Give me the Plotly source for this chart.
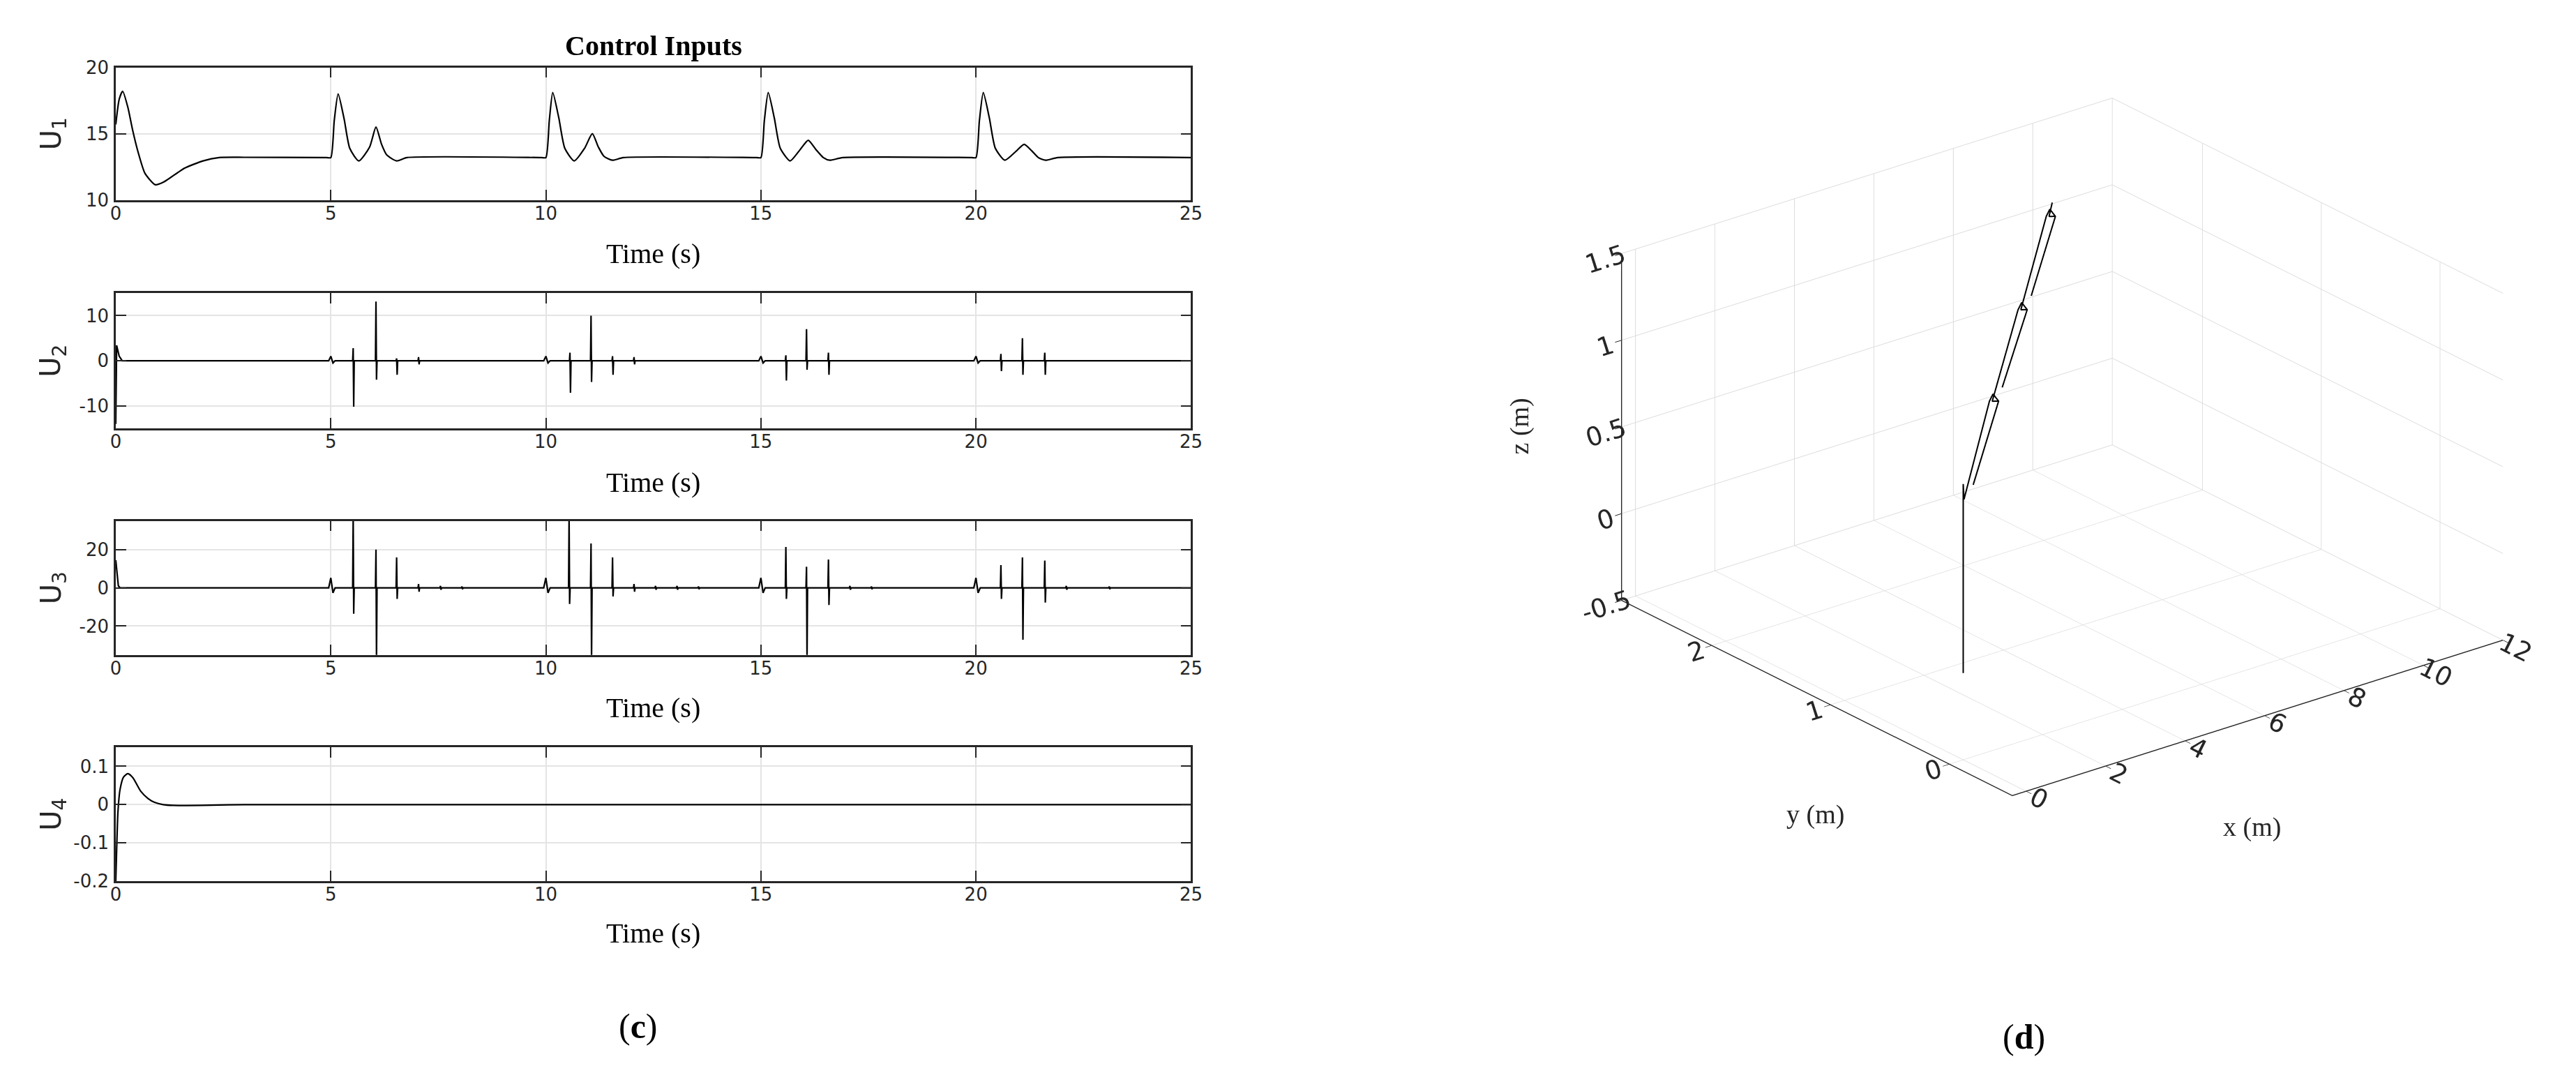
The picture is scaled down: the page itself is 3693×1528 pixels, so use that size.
import plotly.graph_objects as go

# ---- control inputs ----
# U1: thrust, smooth transients at takeoff and at every waypoint switch
u1_t = [0, 0.08, 0.16, 0.28, 0.39, 0.52, 0.68, 0.92, 1.11, 1.6, 2.03, 2.4, 3.0, 4.9,
        5.0, 5.08, 5.17, 5.31, 5.44, 5.65, 5.9, 6.05, 6.18, 6.3, 6.53, 6.77, 9.9,
        10.0, 10.08, 10.16, 10.3, 10.44, 10.66, 10.9, 11.08, 11.22, 11.35, 11.55, 11.8, 14.9,
        15.0, 15.08, 15.17, 15.31, 15.45, 15.68, 15.9, 16.1, 16.28, 16.45, 16.6, 16.9, 19.9,
        20.0, 20.08, 20.17, 20.31, 20.45, 20.67, 20.94, 21.12, 21.3, 21.45, 21.62, 21.9, 25.0]
u1_v = [15.7, 17.6, 18.2, 17.0, 15.3, 13.6, 12.0, 11.15, 11.35, 12.4, 12.95, 13.2, 13.22, 13.2,
        13.2, 16.0, 18.0, 16.1, 13.9, 12.95, 13.98, 15.5, 14.2, 13.4, 12.95, 13.2, 13.2,
        13.2, 16.0, 18.1, 16.2, 13.9, 12.95, 13.9, 15.0, 14.0, 13.3, 13.0, 13.2, 13.2,
        13.2, 16.0, 18.1, 16.2, 13.9, 12.95, 13.75, 14.5, 13.8, 13.2, 13.0, 13.2, 13.2,
        13.2, 16.0, 18.1, 16.2, 13.9, 13.0, 13.7, 14.2, 13.7, 13.2, 13.0, 13.2, 13.2]

# U2: roll input
u2_start_t = [0, 0.02, 0.08, 0.15]
u2_start_v = [-14, 3.4, 1.0, 0]
u2_wig_t = [5, 10, 15, 20]
u2_wig_hi = [1.0, 1.0, 1.0, 1.0]
u2_wig_lo = [-0.5, -0.5, -0.5, -0.5]
u2_spk_t = [5.52, 6.05, 6.53, 7.04, 10.56, 11.05, 11.55, 12.05, 15.58, 16.06, 16.57, 20.58, 21.08, 21.6]
u2_spk_hi = [2.8, 13.1, 0.5, 0.8, 1.8, 10.0, 1.0, 0.8, 1.2, 7.0, 1.8, 1.5, 5.0, 1.8]
u2_spk_lo = [-10.2, -4.2, -3.1, -0.8, -7.1, -4.7, -3.1, -0.8, -4.4, -2.0, -3.1, -2.3, -3.1, -3.1]

# U3: pitch input
u3_start_t = [0, 0.03, 0.06, 0.1]
u3_start_v = [14.5, 8.0, 1.0, 0]
u3_wig_t = [5, 10, 15, 20]
u3_wig_hi = [5.2, 5.2, 5.2, 5.2]
u3_wig_lo = [-2.6, -2.6, -2.6, -2.6]
u3_spk_t = [5.52, 6.05, 6.53, 7.04, 7.55, 8.05,
            10.54, 11.05, 11.55, 12.05, 12.55, 13.05, 13.55,
            15.58, 16.06, 16.57, 17.07, 17.57,
            20.58, 21.08, 21.6, 22.1, 23.1]
u3_spk_hi = [38, 20.0, 15.9, 2.0, 1.0, 0.7,
             38, 23.2, 15.9, 2.0, 1.0, 1.0, 0.7,
             21.3, 11.0, 14.8, 1.0, 0.7,
             11.9, 15.9, 14.2, 1.0, 0.7]
u3_spk_lo = [-13.5, -38, -5.8, -2.0, -1.0, -0.7,
             -8.4, -38, -4.5, -2.0, -1.0, -1.0, -0.7,
             -5.8, -38, -9.0, -1.0, -0.7,
             -5.8, -27.1, -7.7, -1.0, -0.7]

# U4: yaw input
u4_t = [0, 0.02, 0.05, 0.1, 0.18, 0.28, 0.4, 0.58, 0.75, 0.9, 1.1, 1.33, 2.0, 3.0, 25.0]
u4_v = [-0.2, -0.12, -0.02, 0.04, 0.072, 0.081, 0.07, 0.035, 0.016, 0.006, 0.0, -0.002, -0.002, 0.0, 0.0]

# ---- 3D trajectory (m) ----
traj_x = [0, 0, 0, 0.02, 3.44, 3.50, 3.58, 0.61, 3.58, 3.48,
          6.70, 6.76, 6.84, 4.06, 6.84, 6.74,
          10.01, 10.07, 10.15, 7.33, 10.15, 10.05, 10.10]
traj_y = [0, 0, 0, 0, 0.93, 0.92, 0.90, 0.12, 0.90, 0.92,
          1.78, 1.77, 1.75, 1.03, 1.75, 1.77,
          2.65, 2.64, 2.62, 1.88, 2.62, 2.64, 2.63]
traj_z = [0, 1.0, 1.09, 1.0, 1.0, 1.04, 1.0, 1.0, 1.0, 1.0,
          1.0, 1.04, 1.0, 1.0, 1.0, 1.0,
          1.0, 1.04, 1.0, 1.0, 1.0, 1.0, 1.08]

time_ticks = [0, 5, 10, 15, 20, 25]
y_ranges = [[10, 20], [-15, 15], [-35, 35], [-0.2, 0.15]]
y_ticks = [[10, 15, 20], [-10, 0, 10], [-20, 0, 20], [-0.2, -0.1, 0, 0.1]]
y_ticktext = [['10', '15', '20'], ['-10', '0', '10'], ['-20', '0', '20'], ['-0.2', '-0.1', '0', '0.1']]


def spiky(start_t, start_v, wig_t, wig_hi, wig_lo, spk_t, spk_hi, spk_lo, t_end=25.0):
    # turn the read-off events into a polyline around the zero baseline
    pts = list(zip(start_t, start_v))
    ev = [(t, h, l, 0.05) for t, h, l in zip(wig_t, wig_hi, wig_lo)]
    ev += [(t, h, l, 0.012) for t, h, l in zip(spk_t, spk_hi, spk_lo)]
    for t, h, l, w in sorted(ev):
        pts += [(t - w, 0), (t, h), (t + w, l), (t + 2 * w, 0)]
    pts.append((t_end, 0))
    return [p[0] for p in pts], [p[1] for p in pts]


u2_t, u2_v = spiky(u2_start_t, u2_start_v, u2_wig_t, u2_wig_hi, u2_wig_lo, u2_spk_t, u2_spk_hi, u2_spk_lo)
u3_t, u3_v = spiky(u3_start_t, u3_start_v, u3_wig_t, u3_wig_hi, u3_wig_lo, u3_spk_t, u3_spk_hi, u3_spk_lo)

W, H = 3693, 1528
AX = '#262626'
GRID = '#e4e4e4'
TICKFONT = dict(family='DejaVu Sans', size=26, color=AX)
SERIF = 'Liberation Serif'

# pixel boxes of the four panels (top, bottom)
boxes = [(75, 269), (405, 603), (738, 934), (1069, 1265)]
x_dom = [151 / W, 1703 / W]

fig = go.Figure()

series = [(u1_t, u1_v, 'spline'), (u2_t, u2_v, 'linear'), (u3_t, u3_v, 'linear'), (u4_t, u4_v, 'spline')]
for i, (t, v, shape) in enumerate(series):
    sfx = '' if i == 0 else str(i + 1)
    fig.add_trace(go.Scatter(x=t, y=v, mode='lines', xaxis='x' + sfx, yaxis='y' + sfx,
                             line=dict(color='black', width=2.2, shape=shape, smoothing=0.6),
                             showlegend=False, hoverinfo='skip'))

fig.add_trace(go.Scatter3d(x=traj_x, y=traj_y, z=traj_z, mode='lines',
                           line=dict(color='black', width=4), showlegend=False, scene='scene'))

layout = dict(width=W, height=H, paper_bgcolor='white', plot_bgcolor='white',
              margin=dict(l=0, r=0, t=0, b=0), showlegend=False)

for i, (top, bot) in enumerate(boxes):
    sfx = '' if i == 0 else str(i + 1)
    layout['xaxis' + sfx] = dict(domain=x_dom, anchor='y' + sfx, range=[0, 25], tickvals=time_ticks,
                                 showline=True, linecolor=AX, linewidth=2.5, mirror='ticks',
                                 ticks='inside', ticklen=15, tickwidth=2, tickcolor=AX,
                                 showgrid=True, gridcolor=GRID, gridwidth=1.5, zeroline=False,
                                 tickfont=TICKFONT, ticklabelstandoff=-6)
    layout['yaxis' + sfx] = dict(domain=[1 - bot / H, 1 - top / H], anchor='x' + sfx, range=y_ranges[i],
                                 tickvals=y_ticks[i], ticktext=y_ticktext[i],
                                 showline=True, linecolor=AX, linewidth=2.5, mirror='ticks',
                                 ticks='inside', ticklen=15, tickwidth=2, tickcolor=AX,
                                 showgrid=True, gridcolor=GRID, gridwidth=1.5, zeroline=False,
                                 tickfont=TICKFONT, ticklabelstandoff=2)

axis3d = dict(showbackground=False, gridcolor='#dcdcdc', gridwidth=2, zeroline=False,
              showline=True, linecolor=AX, linewidth=3, ticks='outside', ticklen=12, tickcolor=AX,
              tickwidth=2, tickfont=dict(family='DejaVu Sans', size=21, color=AX), showspikes=False,
              title=dict(text=''))
layout['scene'] = dict(
    domain=dict(x=[0.604, 0.9996], y=[0.19, 0.985]),
    xaxis=dict(axis3d, range=[-0.35, 12], tickvals=[0, 2, 4, 6, 8, 10, 12]),
    yaxis=dict(axis3d, range=[-0.53, 2.76], tickvals=[0, 1, 2]),
    zaxis=dict(axis3d, range=[-0.5, 1.5], tickvals=[-0.5, 0, 0.5, 1, 1.5],
               ticktext=['-0.5', '0', '0.5', '1', '1.5']),
    aspectmode='manual', aspectratio=dict(x=1.51, y=1.51, z=0.91),
    camera=dict(eye=dict(x=-0.777, y=-0.976, z=0.541), up=dict(x=0, y=0, z=1),
                center=dict(x=0, y=0, z=0), projection=dict(type='orthographic')),
)

ann = []
xc = (151 + 1703) / 2 / W
ann.append(dict(text='<b>Control Inputs</b>', x=xc, y=1 - 43 / H, xref='paper', yref='paper',
                showarrow=False, font=dict(family=SERIF, size=40, color='black'),
                xanchor='center', yanchor='middle'))
for i, yl in enumerate([347, 682, 1011, 1341]):
    ann.append(dict(text='Time (s)', x=xc, y=1 - yl / H, xref='paper', yref='paper', showarrow=False,
                    font=dict(family=SERIF, size=40, color='black'), xanchor='center', yanchor='middle'))
for i, (top, bot) in enumerate(boxes):
    ann.append(dict(text='U<sub>%d</sub>' % (i + 1), x=60 / W, y=1 - (top + bot) / 2 / H,
                    xref='paper', yref='paper', showarrow=False, textangle=-90,
                    font=dict(family='DejaVu Sans', size=40, color=AX), xanchor='center', yanchor='middle'))
# 3D axis titles
ann.append(dict(text='x (m)', x=3234 / W, y=1 - 1186 / H, xref='paper', yref='paper', showarrow=False,
                font=dict(family=SERIF, size=38, color=AX), xanchor='center', yanchor='middle'))
ann.append(dict(text='y (m)', x=2604 / W, y=1 - 1167 / H, xref='paper', yref='paper', showarrow=False,
                font=dict(family=SERIF, size=38, color=AX), xanchor='center', yanchor='middle'))
ann.append(dict(text='z (m)', x=2177 / W, y=1 - 600 / H, xref='paper', yref='paper', showarrow=False,
                textangle=-90, font=dict(family=SERIF, size=38, color=AX), xanchor='center', yanchor='middle'))
ann.append(dict(text='(<b>c</b>)', x=905 / W, y=1 - 1477 / H, xref='paper', yref='paper', showarrow=False,
                font=dict(family=SERIF, size=50, color='black'), xanchor='center', yanchor='middle'))
ann.append(dict(text='(<b>d</b>)', x=2905 / W, y=1 - 1492 / H, xref='paper', yref='paper', showarrow=False,
                font=dict(family=SERIF, size=50, color='black'), xanchor='center', yanchor='middle'))
layout['annotations'] = ann

fig.update_layout(**layout)
fig.write_html("out.html")
